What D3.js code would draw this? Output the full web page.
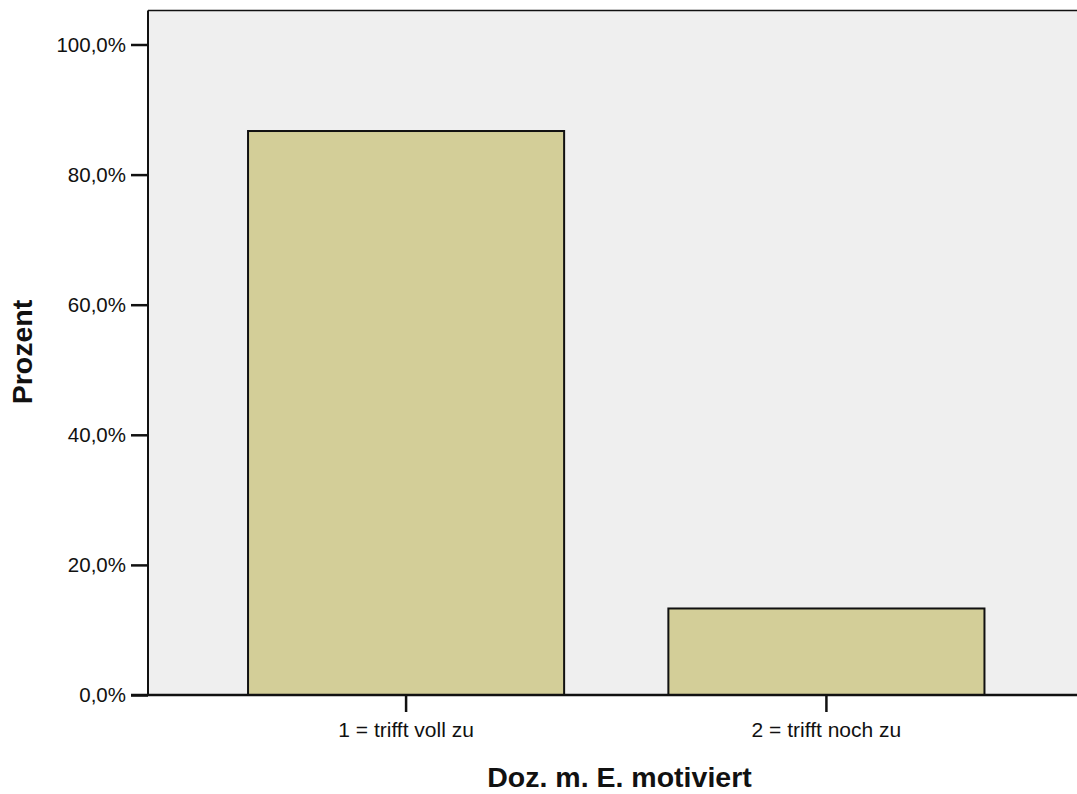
<!DOCTYPE html>
<html><head><meta charset="utf-8">
<script src="https://cdn.jsdelivr.net/npm/d3@7"></script>
<style>body{margin:0;background:#fff}svg{display:block}text{font-family:"Liberation Sans",Arial,sans-serif}</style>
</head><body>
<script>
const categories = ["1 = trifft voll zu", "2 = trifft noch zu"];
const values = [86.7, 13.3];
const yTicks = [0, 20, 40, 60, 80, 100];
const yTickLabels = ["0,0%", "20,0%", "40,0%", "60,0%", "80,0%", "100,0%"];
const xTitle = "Doz. m. E. motiviert";
const yTitle = "Prozent";

(function () {
const W = 1077, H = 794;
const pLeft = 148, pTop = 10.5, pBottom = 695, pRight = 1077;
const svg = d3.select("body").append("svg").attr("width", W).attr("height", H);

const y = d3.scaleLinear().domain([0, 100]).range([pBottom, 44.5]);
const x = d3.scaleBand().domain(categories).range([pLeft, 1084.5]).paddingInner(0.248).paddingOuter(0.238);

svg.append("rect").attr("x", pLeft).attr("y", pTop).attr("width", pRight - pLeft).attr("height", pBottom - pTop).attr("fill", "#efefef");
svg.append("line").attr("x1", pLeft).attr("x2", pRight).attr("y1", pTop).attr("y2", pTop).attr("stroke", "#111").attr("stroke-width", 1.5);

svg.selectAll("rect.bar").data(values).join("rect").attr("class", "bar")
  .attr("x", (d, i) => x(categories[i]))
  .attr("width", x.bandwidth())
  .attr("y", d => y(d))
  .attr("height", d => pBottom - y(d))
  .attr("fill", "#d3ce98").attr("stroke", "#111").attr("stroke-width", 2);

const yAxis = d3.axisLeft(y).tickValues(yTicks).tickFormat((d, i) => yTickLabels[i]).tickSize(17).tickPadding(5);
const gy = svg.append("g").attr("transform", `translate(${pLeft},0)`).call(yAxis);
gy.select(".domain").attr("stroke", "#111").attr("stroke-width", 2).attr("d", `M0,${pTop}V${pBottom}`);
gy.selectAll(".tick line").attr("stroke", "#111").attr("stroke-width", 2.5);
gy.selectAll("text").attr("font-size", 20.5).attr("fill", "#111").attr("font-family", "Liberation Sans, Arial, sans-serif");

const xAxis = d3.axisBottom(x).tickSize(17).tickPadding(10.5);
const gx = svg.append("g").attr("transform", `translate(0,${pBottom})`).call(xAxis);
gx.select(".domain").attr("stroke", "#111").attr("stroke-width", 2.5).attr("d", `M${pLeft - 17},0H${pRight}`);
gx.selectAll(".tick line").attr("stroke", "#111").attr("stroke-width", 2.5);
gx.selectAll("text").attr("font-size", 21).attr("fill", "#111").attr("font-family", "Liberation Sans, Arial, sans-serif");

svg.append("text").attr("x", 619.5).attr("y", 786.5).attr("text-anchor", "middle")
  .attr("font-size", 28.5).attr("font-weight", "bold").attr("fill", "#111").text(xTitle);
svg.append("text").attr("transform", "translate(32,352) rotate(-90)").attr("text-anchor", "middle")
  .attr("font-size", 28.5).attr("font-weight", "bold").attr("fill", "#111").text(yTitle);
})();
</script>
</body></html>
